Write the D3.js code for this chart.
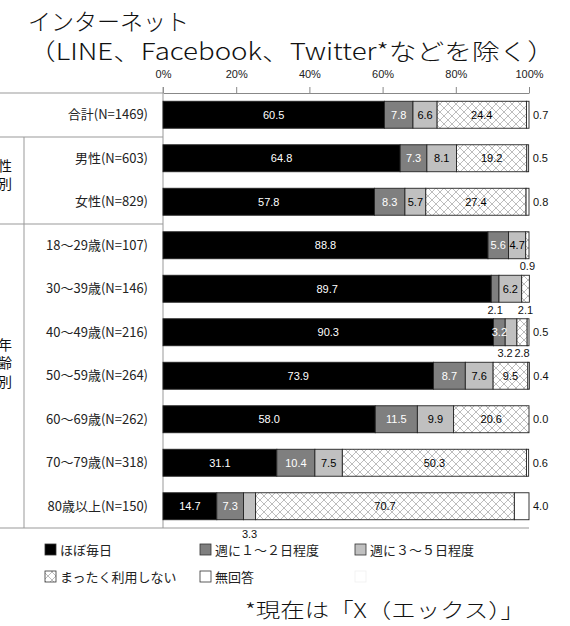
<!DOCTYPE html>
<html><head><meta charset="utf-8">
<script src="https://cdn.jsdelivr.net/npm/d3@7"></script>
<style>
html,body{margin:0;padding:0;background:#fff;}
svg{display:block;}
</style>
</head><body>
<svg id="chart" width="570" height="626"></svg>
<script>
// ---- data ----
const categories = ["合計(N=1469)", "男性(N=603)", "女性(N=829)", "18～29歳(N=107)", "30～39歳(N=146)",
  "40～49歳(N=216)", "50～59歳(N=264)", "60～69歳(N=262)", "70～79歳(N=318)", "80歳以上(N=150)"];
const seriesNames = ["ほぼ毎日", "週に１～２日程度", "週に３～５日程度", "まったく利用しない", "無回答"];
const daily      = [60.5, 64.8, 57.8, 88.8, 89.7, 90.3, 73.9, 58.0, 31.1, 14.7];
const weekly12   = [7.8, 7.3, 8.3, 5.6, 2.1, 3.2, 8.7, 11.5, 10.4, 7.3];
const weekly35   = [6.6, 8.1, 5.7, 4.7, 6.2, 3.2, 7.6, 9.9, 7.5, 3.3];
const never      = [24.4, 19.2, 27.4, 0.9, 2.1, 2.8, 9.5, 20.6, 50.3, 70.7];
const noAnswer   = [0.7, 0.5, 0.8, 0.0, 0.0, 0.5, 0.4, 0.0, 0.6, 4.0];
const tickValues = [0, 20, 40, 60, 80, 100];
const groups = [{name: "性別", from: 1, to: 2}, {name: "年齢別", from: 3, to: 9}];
// labels drawn below the bar [row, series] and labels not drawn
const belowLabels = [[3, 3], [4, 1], [4, 3], [5, 2], [5, 3], [9, 2]];
const hiddenLabels = [[3, 4], [4, 4]];

const series = [daily, weekly12, weekly35, never, noAnswer];

// ---- layout ----
const svg = d3.select("#chart");
const fills = ["#000000", "#7f7f7f", "#c0c0c0", "url(#hatch)", "#ffffff"];
const textCol = ["#ffffff", "#ffffff", "#000000", "#000000", "#000000"];
const jp = "'Noto Sans CJK JP','Noto Sans',sans-serif";
const num = "'Liberation Sans',Arial,sans-serif";

const defs = svg.append("defs");
const pat = defs.append("pattern").attr("id", "hatch").attr("patternUnits", "userSpaceOnUse")
  .attr("width", 8).attr("height", 8);
pat.append("rect").attr("width", 8).attr("height", 8).attr("fill", "#fff");
pat.append("path").attr("d", "M0,0L8,8M0,8L8,0").attr("stroke", "#a0a0a0").attr("stroke-width", 0.7);

const x = d3.scaleLinear().domain([0, 100]).range([163, 529]);
const y = d3.scaleBand().domain(categories).range([93, 528]).paddingInner(0.38).paddingOuter(0.19);

// title
svg.append("text").attr("x", 28).attr("y", 30).attr("font-family", jp).attr("font-size", 23)
  .attr("font-weight", 300).attr("fill", "#111").text("インターネット");
svg.append("text").attr("x", 28).attr("y", 60).attr("font-family", jp).attr("font-size", 23)
  .attr("font-weight", 300).attr("fill", "#111").attr("textLength", 527).attr("lengthAdjust", "spacingAndGlyphs")
  .text("（LINE、Facebook、Twitter*などを除く）");

// axis
const axis = d3.axisTop(x).tickValues(tickValues).tickFormat(d => d + "%").tickSize(6).tickSizeOuter(0);
const ag = svg.append("g").attr("transform", "translate(0,93)").call(axis);
ag.select(".domain").attr("stroke", "#888");
ag.selectAll(".tick line").attr("stroke", "#888");
ag.selectAll(".tick text").attr("font-family", num).attr("font-size", 11).attr("fill", "#222").attr("dy", "-0.55em");

// table lines
const lineCol = "#999";
svg.append("line").attr("x1", 0).attr("x2", 163).attr("y1", 93).attr("y2", 93).attr("stroke", lineCol);
svg.append("line").attr("x1", x(0)).attr("x2", x(0)).attr("y1", 87).attr("y2", 528).attr("stroke", lineCol);
svg.append("line").attr("x1", 0).attr("x2", x(100)).attr("y1", 528).attr("y2", 528).attr("stroke", lineCol);
svg.append("line").attr("x1", 0).attr("x2", 163).attr("y1", 137).attr("y2", 137).attr("stroke", lineCol);
svg.append("line").attr("x1", 0).attr("x2", 163).attr("y1", 224).attr("y2", 224).attr("stroke", lineCol);
svg.append("line").attr("x1", 24).attr("x2", 24).attr("y1", 137).attr("y2", 528).attr("stroke", lineCol);

// group labels (vertical)
const gTop = [166, 345];
groups.forEach((g, gi) => {
  [...g.name].forEach((ch, k) => {
    svg.append("text").attr("x", 5).attr("y", gTop[gi] + k * 18.5).attr("dy", "0.35em")
      .attr("text-anchor", "middle").attr("font-family", jp).attr("font-size", 14).attr("fill", "#111").text(ch);
  });
});

// row labels
svg.append("g").selectAll("text").data(categories).join("text")
  .attr("x", 148).attr("y", d => y(d) + y.bandwidth() / 2).attr("dy", "0.36em")
  .attr("text-anchor", "end").attr("font-family", jp).attr("font-size", 13).attr("fill", "#222")
  .text(d => d);

// stacked data
const rows = categories.map((c, i) => {
  let acc = 0;
  return series.map((s, k) => { const seg = {row: i, k, v: s[i], x0: acc, x1: acc + s[i]}; acc += s[i]; return seg; });
});
const segs = rows.flat();

const isIn = (arr, s) => arr.some(p => p[0] === s.row && p[1] === s.k);

svg.append("g").selectAll("rect").data(segs.filter(s => s.v > 0)).join("rect")
  .attr("x", s => x(s.x0)).attr("width", s => x(s.x1) - x(s.x0))
  .attr("y", s => y(categories[s.row])).attr("height", y.bandwidth())
  .attr("fill", s => fills[s.k]).attr("stroke", "#222").attr("stroke-width", 0.9);

// labels
const lg = svg.append("g").attr("font-family", num).attr("font-size", 11);
segs.forEach(s => {
  if (isIn(hiddenLabels, s)) return;
  const cy = y(categories[s.row]) + y.bandwidth() / 2;
  const txt = s.v.toFixed(1);
  if (s.k === 4) {
    lg.append("text").attr("x", x(s.x1) + 4).attr("y", cy).attr("dy", "0.36em").attr("fill", "#111").text(txt);
  } else if (isIn(belowLabels, s)) {
    const dy = s.row === 9 ? 28 : 21;
    const dx = (s.row === 5 && s.k === 2) ? -6 : 0;
    lg.append("text").attr("x", x((s.x0 + s.x1) / 2) + dx).attr("y", cy + dy).attr("dy", "0.36em")
      .attr("text-anchor", "middle").attr("fill", "#111").text(txt);
  } else {
    lg.append("text").attr("x", x((s.x0 + s.x1) / 2)).attr("y", cy).attr("dy", "0.36em")
      .attr("text-anchor", "middle").attr("fill", textCol[s.k]).text(txt);
  }
});

// legend
const legPos = [[45, 550], [200, 550], [355, 550], [45, 577], [200, 577]];
const leg = svg.append("g");
seriesNames.forEach((n, k) => {
  const [lx, ly] = legPos[k];
  leg.append("rect").attr("x", lx).attr("y", ly - 6).attr("width", 11).attr("height", 11)
    .attr("fill", fills[k]).attr("stroke", "#333").attr("stroke-width", 0.8);
  leg.append("text").attr("x", lx + 15).attr("y", ly).attr("dy", "0.36em")
    .attr("font-family", jp).attr("font-size", 13).attr("fill", "#222").text(n);
});
leg.append("rect").attr("x", 355).attr("y", 571).attr("width", 11).attr("height", 11)
  .attr("fill", "#fff").attr("stroke", "#f0f0f0").attr("stroke-width", 0.8);

// footnote
svg.append("text").attr("x", 245).attr("y", 618).attr("font-family", jp).attr("font-size", 20)
  .attr("font-weight", 300).attr("fill", "#111").attr("textLength", 280).attr("lengthAdjust", "spacingAndGlyphs")
  .text("*現在は「X（エックス）」");
</script>
</body></html>
